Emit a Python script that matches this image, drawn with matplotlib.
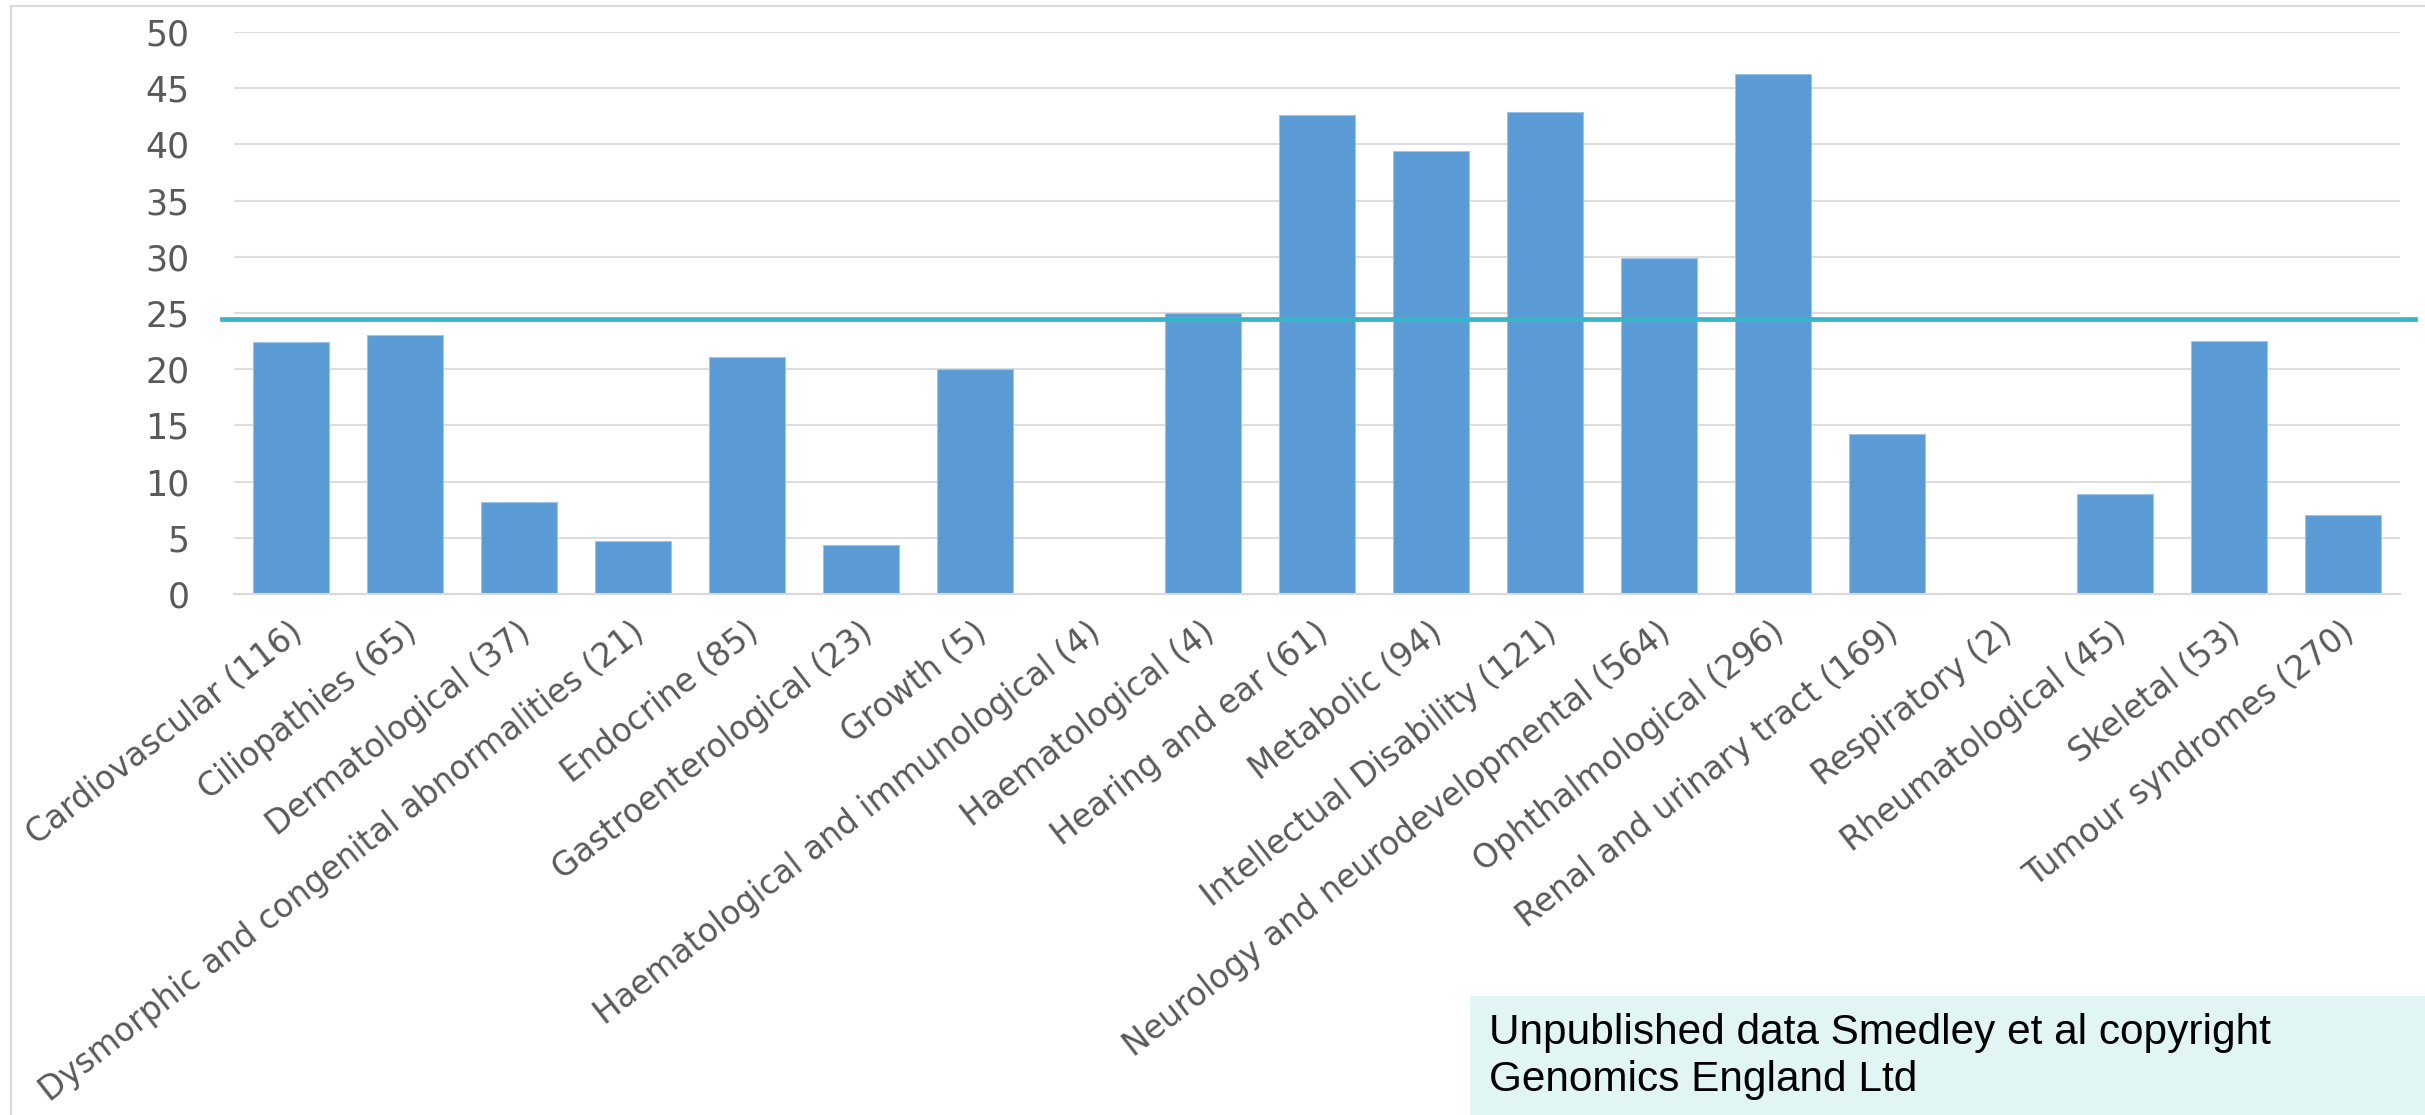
import matplotlib
matplotlib.use('Agg')
import matplotlib.pyplot as plt
import matplotlib.transforms as mtransforms
from matplotlib.patches import Rectangle

# data
categories = ['Cardiovascular (116)', 'Ciliopathies (65)', 'Dermatological (37)',
              'Dysmorphic and congenital abnormalities (21)', 'Endocrine (85)',
              'Gastroenterological (23)', 'Growth (5)',
              'Haematological and immunological (4)', 'Haematological (4)',
              'Hearing and ear (61)', 'Metabolic (94)', 'Intellectual Disability (121)',
              'Neurology and neurodevelopmental (564)', 'Ophthalmological (296)',
              'Renal and urinary tract (169)', 'Respiratory (2)', 'Rheumatological (45)',
              'Skeletal (53)', 'Tumour syndromes (270)']
values = [22.4, 23.0, 8.2, 4.75, 21.1, 4.4, 20.0, 0.0, 25.0,
          42.6, 39.4, 42.9, 29.9, 46.3, 14.2, 0.0, 8.9, 22.5, 7.0]
average = 24.5
y_ticks = [0, 5, 10, 15, 20, 25, 30, 35, 40, 45, 50]
note = 'Unpublished data Smedley et al copyright\nGenomics England Ltd'

W, H = 2425, 1115
fig = plt.figure(figsize=(W / 100, H / 100), dpi=100)
fig.patch.set_facecolor('white')

# plot area in pixels
left, right, top, bottom = 234, 2400, 32, 594
ax = fig.add_axes([left / W, 1 - bottom / H, (right - left) / W, (bottom - top) / H])

x = list(range(len(categories)))
ax.bar(x, values, width=0.667, color='#5B9BD5', edgecolor='#9DC3E6', linewidth=0.8, zorder=2)
ax.axhline(average, xmin=-0.0055, xmax=1.007, color='#38B5C6', linewidth=3.4,
           clip_on=False, zorder=3)

ax.set_xlim(-0.5, len(categories) - 0.5)
ax.set_ylim(0, 50)
ax.set_yticks(y_ticks)
ax.set_yticklabels([str(v) for v in y_ticks], fontsize=25, color='#595959',
                   family='DejaVu Sans')
ax.grid(axis='y', color='#DDDDDD', linewidth=1.5, zorder=0)
ax.set_axisbelow(True)
for s in ['left', 'right', 'top']:
    ax.spines[s].set_visible(False)
ax.spines['bottom'].set_color('#D9D9D9')
ax.spines['bottom'].set_linewidth(1.5)
ax.tick_params(axis='y', length=0, pad=32)
ax.tick_params(axis='x', length=0, pad=25)

ax.set_xticks(x)
ax.set_xticklabels(categories, rotation=38, ha='right', va='center',
                   rotation_mode='anchor', fontsize=23.5, color='#595959',
                   family='DejaVu Sans')
offset = mtransforms.ScaledTranslation(0.08, 0, fig.dpi_scale_trans)
for lab in ax.get_xticklabels():
    lab.set_transform(lab.get_transform() + offset)

# outer chart border
fig.patches.append(Rectangle((11 / W, -0.05), 1.1, 1 - 6 / H + 0.05,
                             transform=fig.transFigure, fill=False,
                             edgecolor='#D9D9D9', linewidth=1.5, zorder=0))

# copyright box
fig.patches.append(Rectangle((1470 / W, 0), 1 - 1470 / W, (H - 996) / H,
                             transform=fig.transFigure, facecolor='#E2F5F5',
                             edgecolor='none', zorder=5))
fig.text(1489 / W, 1 - 1013 / H, note, fontsize=30.5, color='black',
         family='Liberation Sans', ha='left', va='top', linespacing=1.22, zorder=6)

fig.savefig('out.png', dpi=100)
